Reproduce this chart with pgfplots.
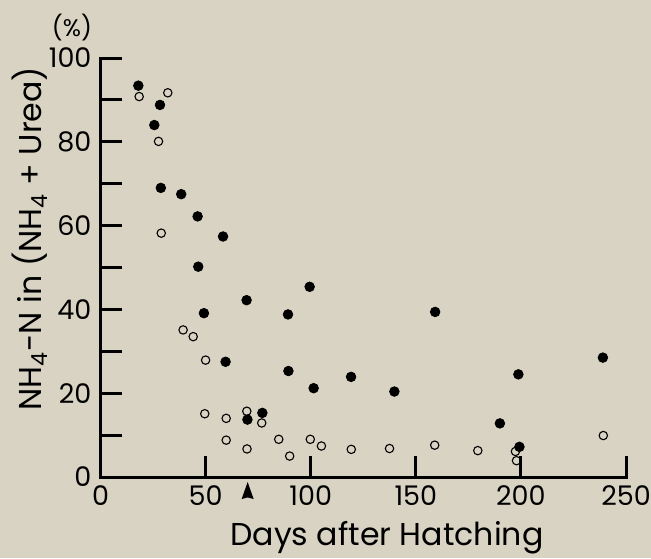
\documentclass[border=0pt]{standalone}
\usepackage{fontspec}
\setmainfont{Poppins}
\usepackage{pgfplots}
\pgfplotsset{compat=1.18}
\usetikzlibrary{backgrounds}
\definecolor{bg}{RGB}{216,211,194}
\begin{document}
\begin{tikzpicture}
\begin{axis}[
  scale only axis, width=262.75pt, height=209.5pt,
  xmin=0, xmax=250, ymin=0, ymax=100,
  axis x line*=bottom, axis y line*=left,
  axis line style={line width=1.5pt, line cap=rect},
  tick style={line width=1.5pt, black},
  tick align=inside, major tick length=10.5pt,
  xtick={0,50,100,150,200,250},
  ytick={0,10,...,100},
  yticklabels={0,,20,,40,,60,,80,,100},
  /pgf/number format/assume math mode=true,
  ticklabel style={font=\fontsize{13.5}{15}\selectfont},
  xticklabel style={yshift=-1pt},
  yticklabel style={xshift=-1pt},
  xlabel={Days after Hatching},
  ylabel={NH\textsubscript{4}-N in (NH\textsubscript{4} + Urea)},
  label style={font=\fontsize{15.8}{18}\selectfont},
  xlabel style={at={(rel axis cs:0.545,0)}, anchor=center, yshift=-30.5pt},
  ylabel style={at={(rel axis cs:0,0.569)}, anchor=center, rotate=0, yshift=35.25pt},
  clip=false,
]
\addplot[only marks, mark=*, mark size=2.4pt, mark options={fill=black, draw=black}] coordinates {
(18,93.4) (28.3,88.8) (25.6,84.0) (28.7,69.0) (38.4,67.5) (46.2,62.2)
(58.3,57.4) (46.5,50.2) (49.2,39.1) (69.5,42.2) (99.5,45.4) (89.2,38.8)
(59.5,27.5) (89.4,25.3) (101.4,21.2) (119.2,23.9) (139.8,20.4) (159.2,39.4)
(69.9,13.7) (77,15.3) (190,12.8) (198.8,24.5) (199.3,7.2) (239,28.5)
};
\addplot[only marks, mark=o, mark size=2.1pt, mark options={draw=black, line width=0.55pt}] coordinates {
(18.4,90.8) (32,91.7) (27.6,80.1) (28.9,58.2) (39.3,35.1) (44.1,33.5)
(50,27.9) (49.6,15.1) (59.8,14.0) (69.6,15.7) (76.7,12.9) (59.8,8.8)
(69.7,6.7) (84.8,9.0) (90,5.0) (99.8,9.0) (105.1,7.4) (119.3,6.6)
(137.5,6.8) (159,7.6) (179.5,6.3) (197.4,6.1) (197.9,3.9) (239.2,9.9)
};
\coordinate (o) at (axis cs:0,0);
\coordinate (tr) at (axis cs:250,100);
\node[font=\fontsize{12}{14}\selectfont, anchor=center] at ([xshift=-14.25pt, yshift=15pt]axis cs:0,100) {(\%)};
\fill[black] ([yshift=-2.5pt]axis cs:70,0) -- ++(-3pt,-8.5pt) -- ++(3pt,0.8pt) -- ++(3pt,-0.8pt) -- cycle;
\end{axis}
\pgfresetboundingbox
\path[use as bounding box] ([xshift=-50.25pt, yshift=-40.5pt]o) rectangle ([xshift=12.5pt, yshift=29pt]tr);
\begin{scope}[on background layer]
\fill[bg] ([xshift=-50.25pt, yshift=-40.5pt]o) rectangle ([xshift=12.5pt, yshift=29pt]tr);
\end{scope}
\end{tikzpicture}
\end{document}
